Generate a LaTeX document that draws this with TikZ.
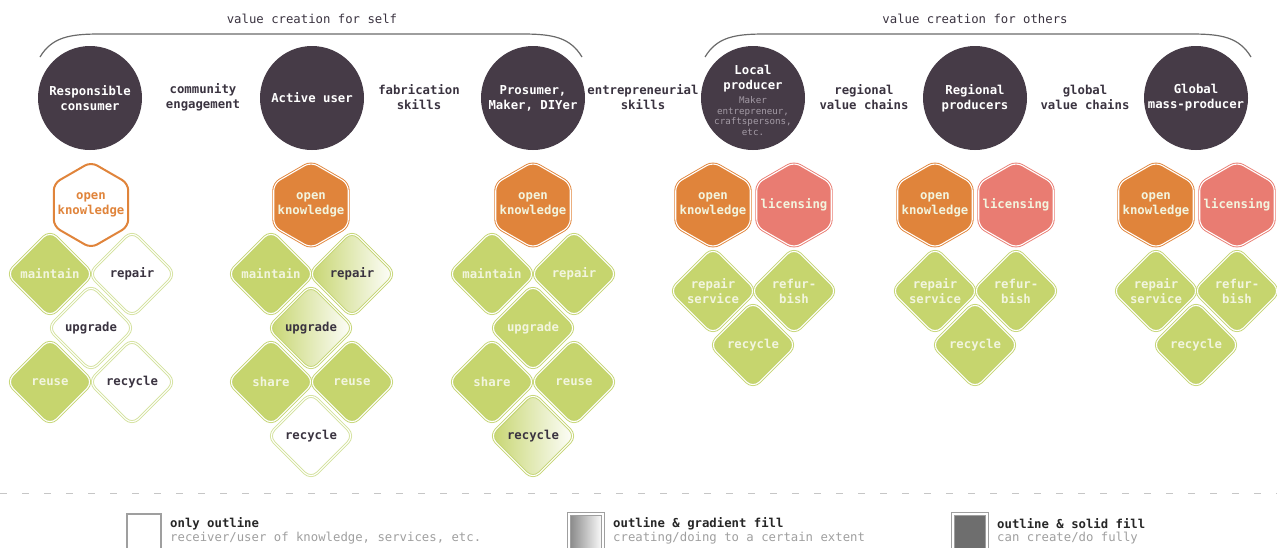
\documentclass[tikz,border=0pt]{standalone}
\usepackage{fontspec}
\usetikzlibrary{shapes.geometric}
\newfontfamily\monof{DejaVu Sans Mono}
\definecolor{dk}{HTML}{463B47}
\definecolor{grn}{HTML}{C6D56E}
\definecolor{grnline}{HTML}{C3D470}
\definecolor{grnlight}{HTML}{D3E19B}
\definecolor{orng}{HTML}{E0843B}
\definecolor{salm}{HTML}{E97C72}
\definecolor{txtdk}{HTML}{3A3340}
\definecolor{txtlt}{HTML}{F2F5DF}
\definecolor{subgray}{HTML}{A39AA5}
\definecolor{brk}{HTML}{6A6A6A}
\definecolor{solidgray}{HTML}{6E6E6E}
\newcommand\labf{\monof\bfseries\fontsize{12.3}{15}\selectfont}
\newcommand\regf{\monof\fontsize{12.3}{15}\selectfont}
\newcommand\smallf{\monof\fontsize{9.2}{10.4}\selectfont}
\begin{document}
\begin{tikzpicture}[x=1pt,y=-1pt,
  circ/.style={circle, fill=dk, minimum size=104pt, inner sep=0pt},
  ctext/.style={font=\labf, text=white, align=center, inner sep=0pt},
  between/.style={font=\labf, text=txtdk, align=center, inner sep=0pt},
  title/.style={font=\regf, text=txtdk, inner sep=0pt},
  dia/.style={diamond, aspect=1, minimum width=87pt, minimum height=87pt, rounded corners=9pt,
     draw=grnline, line width=0.9pt, double=white, double distance=1.1pt,
     inner sep=0pt, align=center, font=\labf},
  dfill/.style={dia, fill=grn, text=txtlt},
  dgrad/.style={dia, left color=grn, right color=white, text=txtdk},
  dout/.style={dia, fill=white, draw=grnlight, text=txtdk},
  hx/.style={regular polygon, regular polygon sides=6, shape border rotate=30,
     minimum size=86pt, inner sep=0pt, rounded corners=7pt},
  hfill/.style={hx, fill=orng, draw=orng, line width=0.9pt, double=white, double distance=1.1pt},
  hsal/.style={hx, fill=salm, draw=salm, line width=0.9pt, double=white, double distance=1.1pt},
  hout/.style={hx, fill=white, draw=orng, line width=2pt},
  hlab/.style={font=\labf, align=center, inner sep=0pt},
  bracket/.style={draw=brk, line width=1.2pt},
  dashline/.style={draw=gray!45, line width=1pt, dash pattern=on 7pt off 15pt},
  legbox/.style={draw=gray!75, line width=1.2pt},
  legtitle/.style={font=\labf, text=black!85, anchor=west, inner sep=0pt},
  legsub/.style={font=\regf, text=gray!75, anchor=west, inner sep=0pt}
]
\useasboundingbox (0,0) rectangle (1277,547);
\clip (0,0) rectangle (1277,547);

% titles and brackets
\node[title] (t1) at (312,19) {value creation for self};
\node[title] (t2) at (975,19) {value creation for others};
\coordinate (b1s) at (40,57);
\coordinate (b1e) at (582,57);
\coordinate (b2s) at (705,57);
\coordinate (b2e) at (1251,57);
\draw[bracket] (b1s) .. controls (52,37) and (70,34) .. (100,34) -- (522,34) .. controls (552,34) and (570,37) .. (b1e);
\draw[bracket] (b2s) .. controls (717,37) and (735,34) .. (765,34) -- (1191,34) .. controls (1221,34) and (1239,37) .. (b2e);

% circles
\node[circ] (c1) at (90,98) {};
\node[circ] (c2) at (312,98) {};
\node[circ] (c3) at (533,98) {};
\node[circ] (c4) at (753,98) {};
\node[circ] (c5) at (975,98) {};
\node[circ] (c6) at (1196,98) {};
\node[ctext] (c1t) at (c1) {Responsible\\consumer};
\node[ctext] (c2t) at (c2) {Active user};
\node[ctext] (c3t) at (c3) {Prosumer,\\Maker, DIYer};
\node[ctext] (c4t) at (753,79) {Local\\producer};
\node[ctext, font=\smallf, text=subgray] (c4s) at (753,116) {Maker\\entrepreneur,\\craftspersons,\\etc.};
\node[ctext] (c5t) at (c5) {Regional\\producers};
\node[ctext] (c6t) at (c6) {Global\\mass-producer};

% between labels
\node[between] (l1) at (203,97) {community\\engagement};
\node[between] (l2) at (419,97) {fabrication\\skills};
\node[between] (l3) at (643,97) {entrepreneurial\\skills};
\node[between] (l4) at (864,97) {regional\\value chains};
\node[between] (l5) at (1085,97) {global\\value chains};

% column 1
\node[hout] (a0) at (91,205) {};
\node[hlab, text=orng] (a0t) at (a0) {open\\knowledge};
\node[dfill] (a1) at (50,274) {maintain};
\node[dout] (a2) at (132,274) {repair};
\node[dout] (a3) at (91,328) {upgrade};
\node[dfill] (a4) at (50,382) {reuse};
\node[dout] (a5) at (132,382) {recycle};

% column 2
\node[hfill] (b0) at (311,205) {};
\node[hlab, text=txtlt] (b0t) at (b0) {open\\knowledge};
\node[dfill] (b1) at (271,274) {maintain};
\node[dgrad] (b2) at (352,274) {repair};
\node[dgrad] (b3) at (311,328) {upgrade};
\node[dfill] (b4) at (271,382) {share};
\node[dfill] (b5) at (352,382) {reuse};
\node[dout] (b6) at (311,436) {recycle};

% column 3
\node[hfill] (d0) at (533,205) {};
\node[hlab, text=txtlt] (d0t) at (d0) {open\\knowledge};
\node[dfill] (d1) at (492,274) {maintain};
\node[dfill] (d2) at (574,274) {repair};
\node[dfill] (d3) at (533,328) {upgrade};
\node[dfill] (d4) at (492,382) {share};
\node[dfill] (d5) at (574,382) {reuse};
\node[dgrad] (d6) at (533,436) {recycle};

% columns 4-6
\foreach \n/\x in {e/753, f/975, g/1196}{
  \node[hfill] (\n0) at (\x-40,205) {};
  \node[hlab, text=txtlt] (\n0t) at (\n0) {open\\knowledge};
  \node[hsal] (\n1) at (\x+41,205) {};
  \node[hlab, text=txtlt] (\n1t) at (\n1) {licensing};
  \node[dfill] (\n2) at (\x-40,291) {repair\\service};
  \node[dfill] (\n3) at (\x+41,291) {refur-\\bish};
  \node[dfill] (\n4) at (\x,345) {recycle};
}

% legend
\coordinate (dl1) at (0,493);
\coordinate (dl2) at (1277,493);
\draw[dashline] (dl1) -- (dl2);
\node[legbox, fill=white, minimum width=34pt, minimum height=46pt, inner sep=0pt] (k1) at (144,537) {};
\node[legbox, double=white, double distance=1.2pt, line width=1pt, left color=gray!95, right color=white, minimum width=34pt, minimum height=46pt, inner sep=0pt] (k2) at (586,537) {};
\node[legbox, double=white, double distance=1.2pt, line width=1pt, fill=solidgray, minimum width=34pt, minimum height=46pt, inner sep=0pt] (k3) at (970,537) {};
\node[legtitle] (k1a) at (170,524) {only outline};
\node[legsub] (k1b) at (170,538) {receiver/user of knowledge, services, etc.};
\node[legtitle] (k2a) at (613,524) {outline \& gradient fill};
\node[legsub] (k2b) at (613,538) {creating/doing to a certain extent};
\node[legtitle] (k3a) at (997,524) {outline \& solid fill};
\node[legsub] (k3b) at (997,538) {can create/do fully};
\end{tikzpicture}
\end{document}
